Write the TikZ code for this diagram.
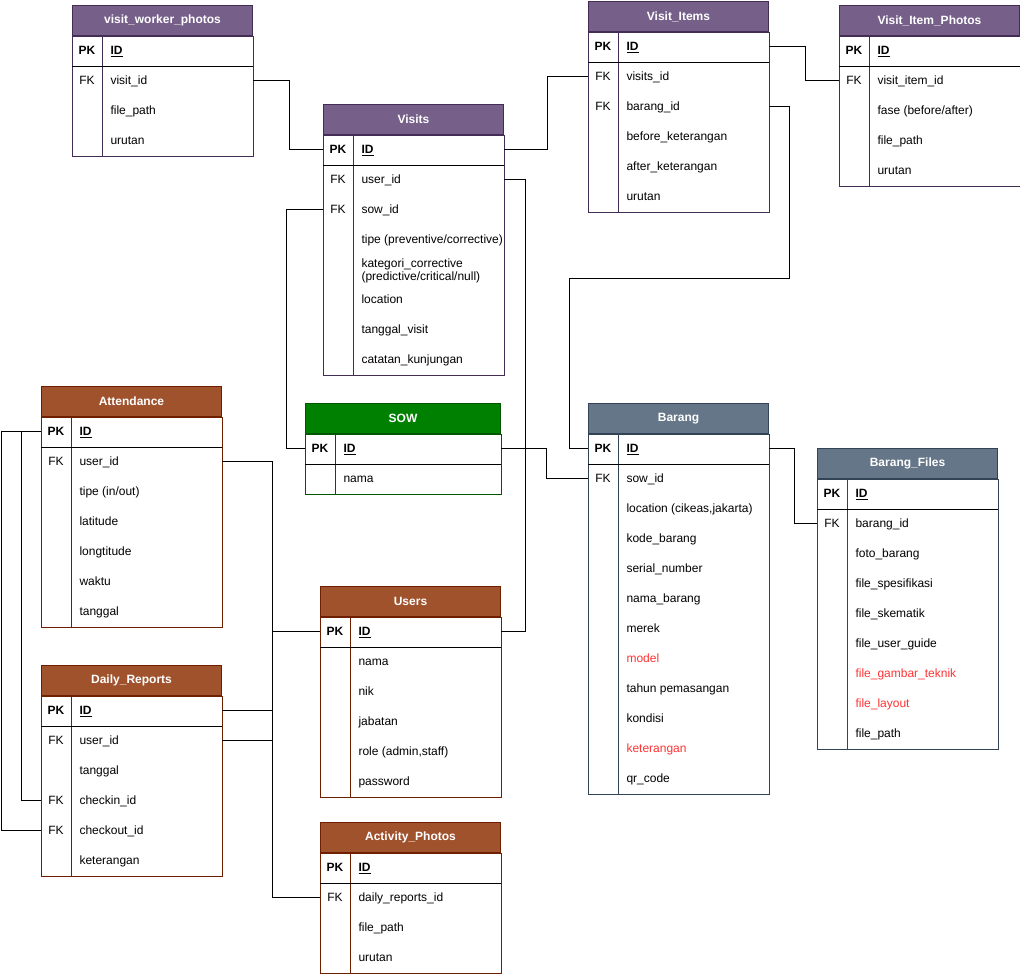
\documentclass[tikz,border=0pt]{standalone}
\usepackage{fontspec}
\setmainfont{Liberation Sans}
\usepackage{tikz}
\usetikzlibrary{positioning,calc}

\definecolor{purplehd}{HTML}{76608A}
\definecolor{purplebd}{HTML}{432D57}
\definecolor{brownhd}{HTML}{A0522D}
\definecolor{brownbd}{HTML}{6D1F00}
\definecolor{greenhd}{HTML}{008000}
\definecolor{greenbd}{HTML}{005700}
\definecolor{slatehd}{HTML}{647687}
\definecolor{slatebd}{HTML}{314354}
\definecolor{redtext}{HTML}{FF3333}

% one table: name, x, y, width, colour, title, rows (key/field/colour)
\newcommand{\ertable}[7]{%
  \node[tblhead, fill=#5hd, draw=#5bd, minimum width=#4pt] (#1) at (#2,#3) {#6};
  \foreach \rkey/\rfield/\rcol [count=\i] in {#7} {
    \node[tblrow, minimum width=#4pt] (#1-\i) at (#2,#3+30*\i) {};
    \node[keytext] (#1-\i-k) at ($(#1-\i.west)+(15,1.5)$) {\strut\rkey};
    \node[fieldtext, text=\rcol] (#1-\i-f) at ($(#1-\i.west)+(38,1.5)$) {\strut\rfield};
    \xdef\ernum{\i}
  }
  \draw[draw=#5bd] (#1.south west) rectangle (#1-\ernum.south east);
  \draw[draw=#5bd] ($(#1-1.north west)+(30,0)$) -- ($(#1-\ernum.south west)+(30,0)$);
  \draw[black] (#1-1.south west) -- (#1-1.south east);
}

\begin{document}
\begin{tikzpicture}
[x=1pt, y=-1pt, line width=1pt,
    font=\fontsize{12}{13}\selectfont,
    tblhead/.style={anchor=north west, rectangle, minimum height=30pt,
      inner sep=0pt, text=white, font=\bfseries\fontsize{12}{13}\selectfont},
    tblrow/.style={anchor=north west, rectangle, minimum height=30pt, inner sep=0pt},
    keytext/.style={inner sep=0pt},
    fieldtext/.style={anchor=west, inner sep=0pt, align=left},
    link/.style={draw=black, line width=1pt}
    ]
    \useasboundingbox (0,0) rectangle (1020,977);

    % visit tables
    \ertable{vwp}{72}{5}{180}{purple}{visit\_worker\_photos}
      {\textbf{PK}/\textbf{\underline{ID}}/black, FK/visit\_id/black,
       /file\_path/black, /urutan/black}
    \ertable{visits}{323}{104}{180}{purple}{Visits}
      {\textbf{PK}/\textbf{\underline{ID}}/black, FK/user\_id/black,
       FK/sow\_id/black, /{tipe (preventive/corrective)}/black,
       /{kategori\_corrective\\\strut(predictive/critical/null)}/black,
       /location/black, /tanggal\_visit/black, /catatan\_kunjungan/black}
    \ertable{vitems}{588}{1}{180}{purple}{Visit\_Items}
      {\textbf{PK}/\textbf{\underline{ID}}/black, FK/visits\_id/black,
       FK/barang\_id/black, /before\_keterangan/black,
       /after\_keterangan/black, /urutan/black}
    \ertable{vip}{839}{5}{180}{purple}{Visit\_Item\_Photos}
      {\textbf{PK}/\textbf{\underline{ID}}/black, FK/visit\_item\_id/black,
       /{fase (before/after)}/black, /file\_path/black, /urutan/black}

    % master data
    \ertable{sow}{305}{403}{195}{green}{SOW}
      {\textbf{PK}/\textbf{\underline{ID}}/black, /nama/black}
    \ertable{barang}{588}{403}{180}{slate}{Barang}
      {\textbf{PK}/\textbf{\underline{ID}}/black, FK/sow\_id/black,
       /{location (cikeas,jakarta)}/black, /kode\_barang/black,
       /serial\_number/black, /nama\_barang/black, /merek/black,
       /model/redtext, /tahun pemasangan/black, /kondisi/black,
       /keterangan/redtext, /qr\_code/black}
    \ertable{bfiles}{817}{448}{180}{slate}{Barang\_Files}
      {\textbf{PK}/\textbf{\underline{ID}}/black, FK/barang\_id/black,
       /foto\_barang/black, /file\_spesifikasi/black, /file\_skematik/black,
       /file\_user\_guide/black, /file\_gambar\_teknik/redtext,
       /file\_layout/redtext, /file\_path/black}

    % staff tables
    \ertable{att}{41}{386}{180}{brown}{Attendance}
      {\textbf{PK}/\textbf{\underline{ID}}/black, FK/user\_id/black,
       /{tipe (in/out)}/black, /latitude/black, /longtitude/black,
       /waktu/black, /tanggal/black}
    \ertable{users}{320}{586}{180}{brown}{Users}
      {\textbf{PK}/\textbf{\underline{ID}}/black, /nama/black, /nik/black,
       /jabatan/black, /{role (admin,staff)}/black, /password/black}
    \ertable{daily}{41}{665}{180}{brown}{Daily\_Reports}
      {\textbf{PK}/\textbf{\underline{ID}}/black, FK/user\_id/black,
       /tanggal/black, FK/checkin\_id/black, FK/checkout\_id/black,
       /keterangan/black}
    \ertable{aphotos}{320}{822}{180}{brown}{Activity\_Photos}
      {\textbf{PK}/\textbf{\underline{ID}}/black, FK/daily\_reports\_id/black,
       /file\_path/black, /urutan/black}

    % relations
    \draw[link] (vwp-2.east) -- ++(36,0) |- (visits-1.west);
    \draw[link] (visits-1.east) -- ++(43,0) |- (vitems-2.west);
    \draw[link] (vitems-1.east) -- ++(36,0) |- (vip-2.west);
    \draw[link] (vitems-3.east) -- ++(20,0) -- ++(0,172)
      -| ($(barang-1.west)+(-19,0)$) -- (barang-1.west);
    \draw[link] (visits-2.east) -- ++(21,0) |- (users-1.east);
    \draw[link] (visits-3.west) -- ++(-37,0) |- (sow-1.west);
    \draw[link] (sow-1.east) -- ++(45,0) |- (barang-2.west);
    \draw[link] (barang-1.east) -- ++(25,0) |- (bfiles-2.west);
    \draw[link] (att-2.east) -- ++(50,0) |- (users-1.west);
    \draw[link] (daily-2.east) -- ++(50,0) |- (users-1.west);
    \draw[link] (daily-1.east) -- ++(50,0) |- (aphotos-2.west);
    \draw[link] (att-1.west) -- ++(-20,0) |- (daily-4.west);
    \draw[link] (att-1.west) -- ++(-40,0) |- (daily-5.west);
\end{tikzpicture}
\end{document}
